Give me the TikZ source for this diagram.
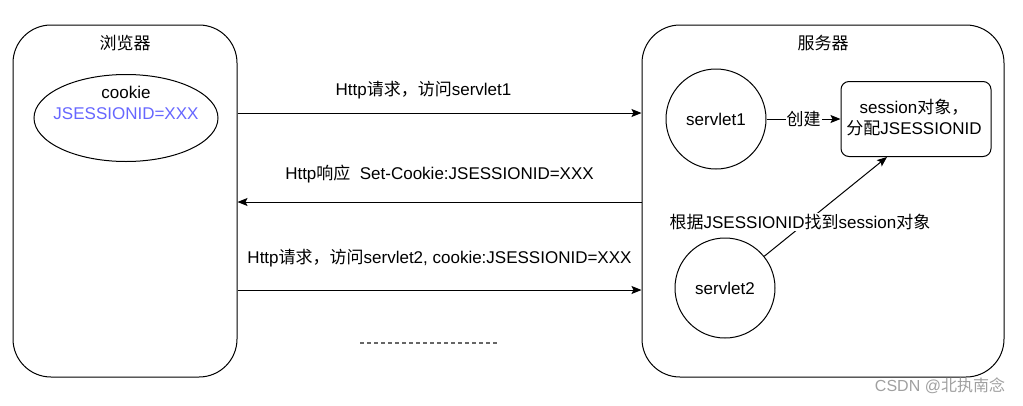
\documentclass[tikz,border=0pt]{standalone}
\usepackage{fontspec}
\setmainfont{Liberation Sans}
\newfontfamily\cjk{Noto Sans CJK SC}
\newcommand{\zh}[1]{{\cjk #1}}
\usetikzlibrary{arrows.meta,shapes.geometric,positioning}
\definecolor{idblue}{RGB}{102,102,255}
\definecolor{markgray}{RGB}{160,160,160}
\tikzset{
	box/.style={draw, rounded corners=38pt, line width=1pt},
	srv/.style={draw, circle, minimum size=100pt, inner sep=0pt, line width=1pt},
	msg/.style={-{Stealth[length=10pt,width=8pt,inset=2pt]}, line width=1pt},
	lbl/.style={inner sep=1pt, align=center}
}
\begin{document}
\begin{tikzpicture}[x=1pt, y=-1pt, font=\fontsize{17}{21}\selectfont]
	\useasboundingbox (0,0) rectangle (1023,405);
	% browser side
	\node[box, minimum width=224pt, minimum height=352pt] (browser) at (125,201) {};
	\node[lbl] (btitle) at (125,43) {\zh{浏览器}};
	\node[draw, ellipse, line width=1pt, minimum width=184pt, minimum height=87pt] (cookie) at (126,118) {};
	\node[lbl] (ctext) at (126,103) {cookie\\\color{idblue}JSESSIONID=XXX};
	% server side
	\node[box, minimum width=362pt, minimum height=352pt] (server) at (823,201) {};
	\node[lbl] (stitle) at (823,43) {\zh{服务器}};
	\node[srv] (s1) at (716,119) {servlet1};
	\node[srv] (s2) at (725,288) {servlet2};
	\node[draw, rounded corners=8pt, line width=1pt, minimum width=150pt, minimum height=75pt] (session) at (916,119) {};
	\node[lbl] (stext) at (914,118) {session\zh{对象，}\\\zh{分配}JSESSIONID};
	\draw[msg] (s1) -- node[fill=white, inner sep=1pt] {\zh{创建}} (session);
	\draw[msg] (s2) -- (session.south -| 887,0);
	\node[lbl, fill=white] (find) at (800,222) {\zh{根据}JSESSIONID\zh{找到}session\zh{对象}};
	% messages
	\coordinate (r1) at (0,113);
	\coordinate (r2) at (0,202);
	\coordinate (r3) at (0,290);
	\draw[msg] (browser.east |- r1) -- node[lbl, above=12pt, xshift=-16pt] {Http\zh{请求，访问}servlet1} (server.west |- r1);
	\draw[msg] (server.west |- r2) -- node[lbl, above=17pt] {Http\zh{响应}\ \ Set-Cookie:JSESSIONID=XXX} (browser.east |- r2);
	\draw[msg] (browser.east |- r3) -- node[lbl, above=21pt] {Http\zh{请求，访问}servlet2, cookie:JSESSIONID=XXX} (server.west |- r3);
	\draw[line width=1.5pt, black!60, dash pattern=on 4pt off 3pt] (360,343) -- (498,343);
	\node[text=markgray, font=\fontsize{16}{19}\selectfont] (mark) at (940,386) {CSDN @\zh{北执南念}};
\end{tikzpicture}
\end{document}
